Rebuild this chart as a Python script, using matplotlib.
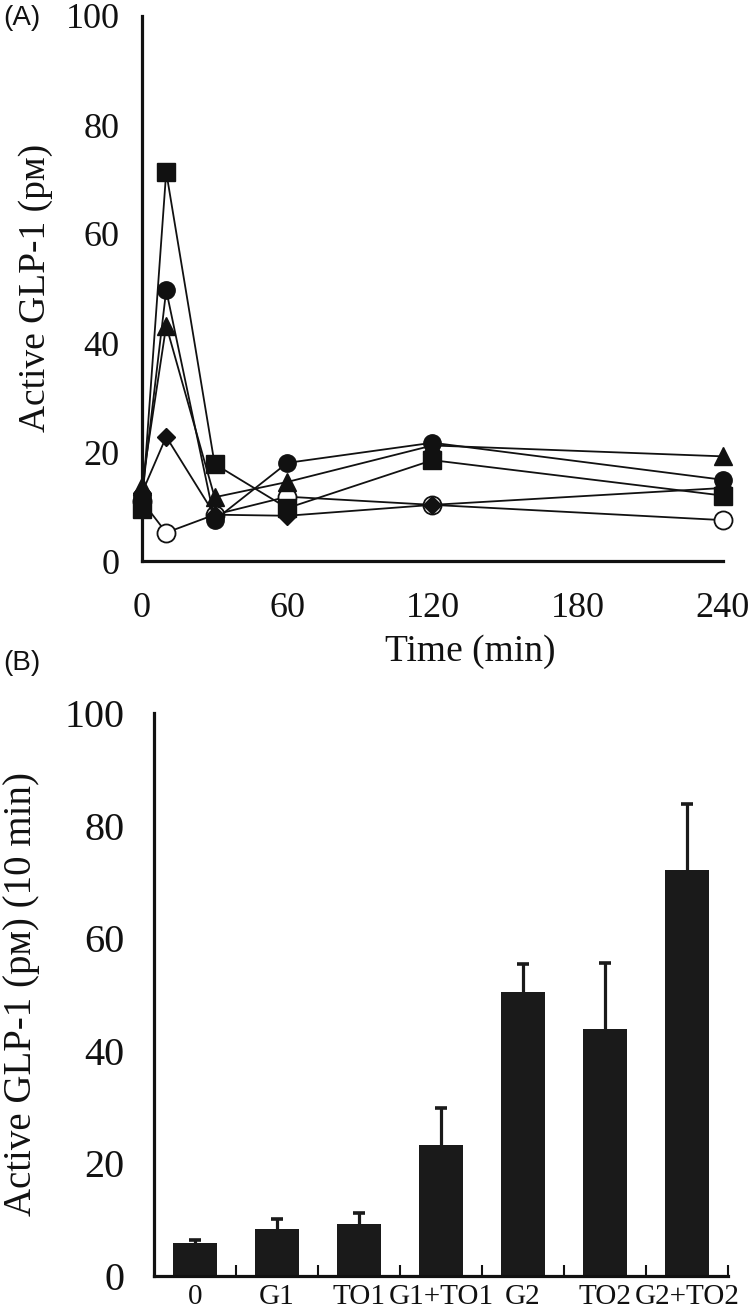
import matplotlib
matplotlib.use("Agg")
import matplotlib.pyplot as plt
import numpy as np

plt.rcParams['font.family'] = ['Liberation Serif', 'DejaVu Serif', 'DejaVu Sans']

# ---------------- Data ----------------
time_min = [0, 10, 30, 60, 120, 240]
ctrl_0 = [11.0, 5.2, 8.5, 11.8, 10.3, 7.5]          # open circle
g1_to1 = [12.5, 22.8, 8.5, 8.3, 10.3, 13.4]         # diamond
to2 = [13.8, 43.2, 11.7, 14.5, 21.2, 19.2]          # triangle
g2_to2 = [9.5, 71.4, 17.8, 9.7, 18.5, 12.0]         # square
g2 = [12.0, 49.7, 7.5, 18.0, 21.7, 14.9]            # filled circle

groups = ['0', 'G1', 'TO1', 'G1+TO1', 'G2', 'TO2', 'G2+TO2']
means_10min = [5.9, 8.4, 9.2, 23.3, 50.4, 43.9, 72.1]
sem_10min = [0.5, 1.7, 2.0, 6.6, 5.0, 11.7, 11.7]

x_ticks_a = [0, 60, 120, 180, 240]
y_ticks = [0, 20, 40, 60, 80, 100]

W, H = 755, 1311
fig = plt.figure(figsize=(W / 100, H / 100), dpi=100)

ink = '#111111'
spw = 2.3

# ---------------- Panel A ----------------
axA = fig.add_axes([142 / W, 1 - 561 / H, (723 - 142) / W, (561 - 16) / H])
lw = 1.3
series = [
    (ctrl_0, dict(marker='o', ms=13, mfc='white', mec=ink, mew=1.3)),
    (g1_to1, dict(marker='D', ms=9.5, mfc=ink, mec=ink)),
    (to2, dict(marker='^', ms=13, mfc=ink, mec=ink)),
    (g2_to2, dict(marker='s', ms=12.5, mfc=ink, mec=ink)),
    (g2, dict(marker='o', ms=12.5, mfc=ink, mec=ink)),
]
for vals, st in series:
    axA.plot(time_min, vals, color=ink, lw=lw, clip_on=False, **st)

axA.set_xlim(0, 240)
axA.set_ylim(0, 100)
for s in ['top', 'right']:
    axA.spines[s].set_visible(False)
for s in ['left', 'bottom']:
    axA.spines[s].set_linewidth(spw)
    axA.spines[s].set_color(ink)
axA.set_xticks(x_ticks_a)
axA.set_xticklabels([str(v) for v in x_ticks_a])
axA.set_yticks(y_ticks)
axA.set_yticklabels([str(v) for v in y_ticks])
axA.set_xticks([60, 120, 180], minor=True)
axA.set_yticks([20, 40, 60, 80], minor=True)
axA.tick_params(axis='x', which='major', length=0, pad=22, labelsize=26, colors=ink)
axA.tick_params(axis='y', which='major', length=0, pad=16, labelsize=26, colors=ink)
axA.tick_params(which='minor', direction='in', length=8, width=1.5, colors=ink)

fig.text(36 / W, 1 - 288 / H, 'Active GLP-1 (pᴍ)', rotation=90, ha='center',
         va='center', fontsize=27, color=ink)
fig.text(470 / W, 1 - 652 / H, 'Time (min)', ha='center', va='center',
         fontsize=27, color=ink)
fig.text(3 / W, 1 - 5 / H, '(A)', ha='left', va='top', fontsize=20,
         family=['Liberation Sans', 'DejaVu Sans'], color=ink)

# ---------------- Panel B ----------------
axB = fig.add_axes([154 / W, 1 - 1276 / H, (728 - 154) / W, (1276 - 713) / H])
xpos = np.arange(len(groups))
axB.bar(xpos, means_10min, width=0.53, color='#1a1a1a', zorder=3)
eb = axB.errorbar(xpos, means_10min,
                  yerr=[np.zeros(len(sem_10min)), sem_10min],
                  fmt='none', ecolor='#1a1a1a', elinewidth=2.3, capsize=4,
                  capthick=2.6, zorder=2)
# keep only the upper caps
eb[1][0].set_visible(False)

axB.set_xlim(-0.5, len(groups) - 0.5)
axB.set_ylim(0, 100)
for s in ['top', 'right']:
    axB.spines[s].set_visible(False)
for s in ['left', 'bottom']:
    axB.spines[s].set_linewidth(spw)
    axB.spines[s].set_color(ink)
    axB.spines[s].set_zorder(4)
axB.set_xticks(xpos)
axB.set_xticklabels(groups)
axB.set_yticks(y_ticks)
axB.set_yticklabels([str(v) for v in y_ticks])
axB.set_xticks(np.arange(len(groups)) + 0.5, minor=True)
axB.set_yticks([20, 40, 60, 80], minor=True)
axB.tick_params(axis='x', which='major', length=0, pad=6, labelsize=21, colors=ink)
axB.tick_params(axis='y', which='major', length=0, pad=21, labelsize=29, colors=ink)
axB.tick_params(which='minor', direction='in', length=8, width=1.5, colors=ink)

fig.text(22 / W, 1 - 994 / H, 'Active GLP-1 (pᴍ) (10 min)', rotation=90,
         ha='center', va='center', fontsize=28, color=ink)
fig.text(3 / W, 1 - 650 / H, '(B)', ha='left', va='top', fontsize=20,
         family=['Liberation Sans', 'DejaVu Sans'], color=ink)

fig.savefig('out.png', dpi=100, facecolor='white')
